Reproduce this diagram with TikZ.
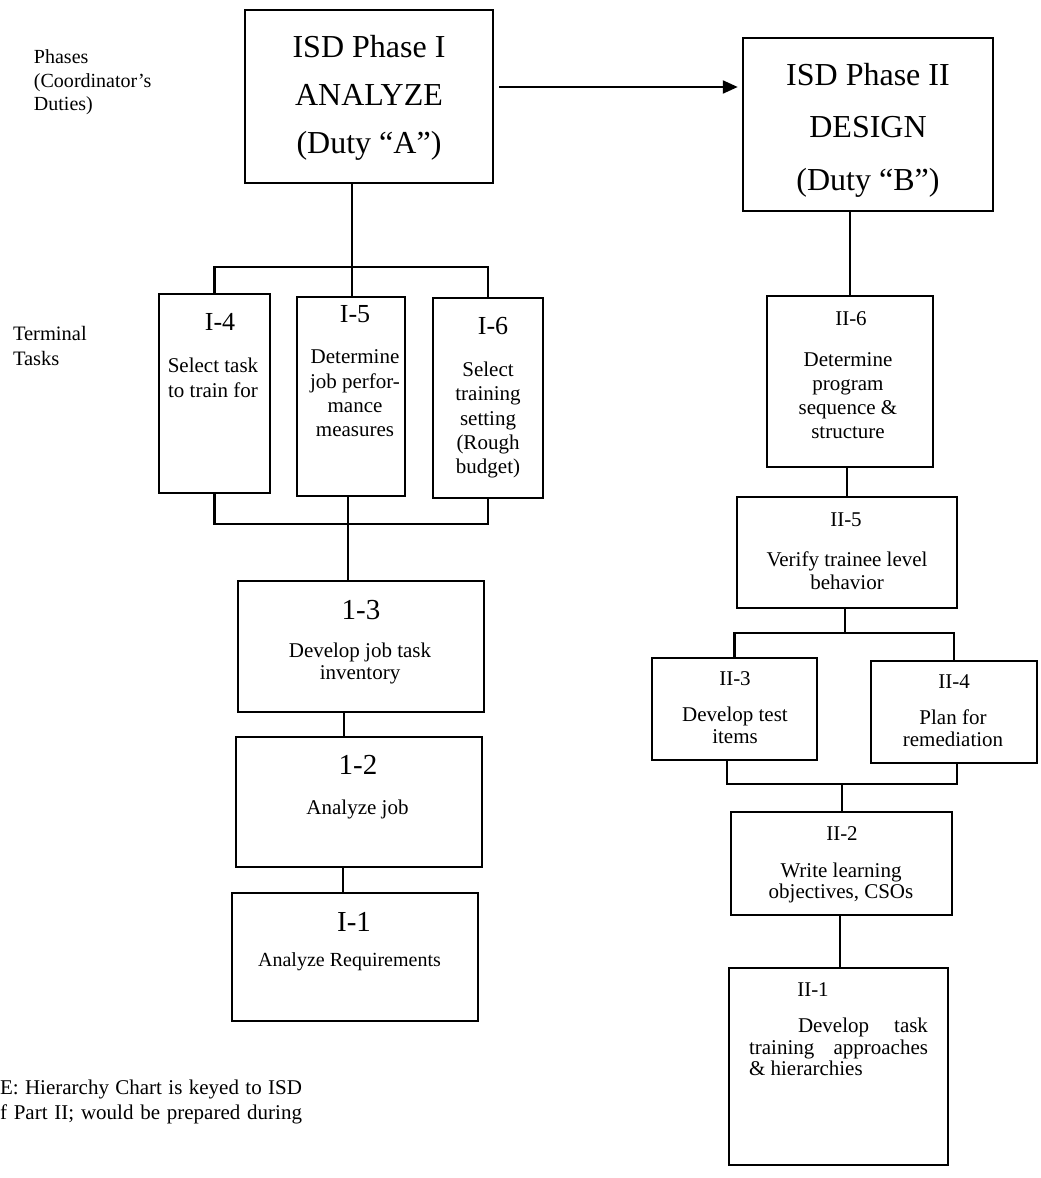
\documentclass[tikz,border=0pt]{standalone}
\usepackage{fontspec}
\setmainfont{Liberation Serif}
\usetikzlibrary{arrows.meta}
\tikzset{
  box/.style={draw, rectangle, line width=2.5pt, inner sep=0pt},
  conn/.style={line width=2.3pt},
  txt/.style={inner sep=0pt, outer sep=0pt, align=center, anchor=north},
  fbig/.style={font=\fontsize{32}{48}\selectfont},
  fnum/.style={font=\fontsize{26}{30}\selectfont},
  fnumb/.style={font=\fontsize{29}{33}\selectfont},
  fbody/.style={font=\fontsize{21}{24.3}\selectfont},
}
\begin{document}
\begin{tikzpicture}[x=1pt,y=-1pt]
\fill[white] (0,0) rectangle (1041,1178);
\useasboundingbox (0,0) rectangle (1041,1178);

% ---------- boxes ----------
\node[box, minimum width=248pt, minimum height=173pt] (p1) at (369,96.5) {};
\node[box, minimum width=250pt, minimum height=173pt] (p2) at (868,124.5) {};
\node[box, minimum width=111pt, minimum height=199pt] (i4) at (214.5,393.5) {};
\node[box, minimum width=108pt, minimum height=199pt] (i5) at (351,396.5) {};
\node[box, minimum width=110pt, minimum height=200pt] (i6) at (488,398) {};
\node[box, minimum width=246pt, minimum height=131pt] (i3) at (361,646.5) {};
\node[box, minimum width=246pt, minimum height=130pt] (i2) at (359,802) {};
\node[box, minimum width=246pt, minimum height=128pt] (i1) at (355,957) {};
\node[box, minimum width=166pt, minimum height=171pt] (ii6) at (850,381.5) {};
\node[box, minimum width=220pt, minimum height=111pt] (ii5) at (847,552.5) {};
\node[box, minimum width=165pt, minimum height=102pt] (ii3) at (734.5,709) {};
\node[box, minimum width=166pt, minimum height=102pt] (ii4) at (954,712) {};
\node[box, minimum width=221pt, minimum height=103pt] (ii2) at (841.5,863.5) {};
\node[box, minimum width=219pt, minimum height=197pt] (ii1) at (838.5,1066.5) {};

% ---------- junction coordinates ----------
\coordinate (ay) at (0,87);
\coordinate (t1) at (352,267);
\coordinate (bb) at (348,524);
\coordinate (lx) at (344,0);
\coordinate (lx2) at (343,0);
\coordinate (lx3) at (840,0);
\coordinate (rb1) at (845,633);
\coordinate (rb2) at (842,784);

% ---------- connectors ----------
\draw[conn, -{Triangle[length=15pt,width=13pt]}, shorten <=5pt, shorten >=4pt]
  (p1.east |- ay) -- (p2.west |- ay);
\draw[conn] (t1 |- p1.south) -- (t1);
\draw[conn] (i4.north) |- (t1) -| (i6.north);
\draw[conn] (t1) -- (t1 |- i5.north);
\draw[conn] (i4.south) |- (bb) -| (i6.south);
\draw[conn] (bb |- i5.south) -- (bb);
\draw[conn] (bb) -- (bb |- i3.north);
\draw[conn] (lx |- i3.south) -- (lx |- i2.north);
\draw[conn] (lx2 |- i2.south) -- (lx2 |- i1.north);

\draw[conn] (ii6.north |- p2.south) -- (ii6.north);
\draw[conn] (ii5.north |- ii6.south) -- (ii5.north);
\draw[conn] (rb1 |- ii5.south) -- (rb1);
\draw[conn] (ii3.north) |- (rb1) -| (ii4.north);
\draw[conn] ([xshift=-7.5pt]ii3.south) |- (rb2) -| ([xshift=3pt]ii4.south);
\draw[conn] (rb2) -- (rb2 |- ii2.north);
\draw[conn] (lx3 |- ii2.south) -- (lx3 |- ii1.north);

% ---------- texts ----------
\node[txt, fbig] (p1t) at (369,35) {ISD Phase I\\ANALYZE\\(Duty “A”)};
\node[txt, fbig, font=\fontsize{32}{52.5}\selectfont] (p2t) at (868,63) {ISD Phase II\\DESIGN\\(Duty “B”)};

\node[txt, anchor=north west, align=left, font=\fontsize{20}{23.5}\selectfont] (phl) at (34,50)
  {Phases\\(Coordinator’s\\Duties)};
\node[txt, anchor=north west, align=left, font=\fontsize{20.5}{25}\selectfont] (ttl) at (13,326)
  {Terminal\\Tasks};

\node[txt, fnum] (i4n) at (220,313) {I-4};
\node[txt, fbody, font=\fontsize{21}{25}\selectfont] (i4t) at (213,358) {Select task\\to train for};
\node[txt, fnum] (i5n) at (355,305) {I-5};
\node[txt, fbody] (i5t) at (355,350) {Determine\\job perfor-\\mance\\measures};
\node[txt, fnum] (i6n) at (493,317) {I-6};
\node[txt, fbody] (i6t) at (488,362) {Select\\training\\setting\\(Rough\\budget)};

\node[txt, fnumb] (i3n) at (361,600) {1-3};
\node[txt, font=\fontsize{21}{22}\selectfont] (i3t) at (360,643) {Develop job task\\inventory};
\node[txt, fnumb] (i2n) at (358,755) {1-2};
\node[txt, fbody] (i2t) at (357.5,800) {Analyze job};
\node[txt, fnumb] (i1n) at (354,912) {I-1};
\node[txt, font=\fontsize{20}{24}\selectfont] (i1t) at (349.5,953) {Analyze Requirements};

\node[txt, fbody] (ii6n) at (851,312) {II-6};
\node[txt, font=\fontsize{21}{24}\selectfont] (ii6t) at (848,353) {Determine\\program\\sequence \&\\structure};
\node[txt, fbody] (ii5n) at (846,513) {II-5};
\node[txt, font=\fontsize{21}{23}\selectfont] (ii5t) at (847,552) {Verify trainee level\\behavior};
\node[txt, fbody] (ii3n) at (735,672) {II-3};
\node[txt, font=\fontsize{21}{21.5}\selectfont] (ii3t) at (735,707) {Develop test\\items};
\node[txt, fbody] (ii4n) at (954,675) {II-4};
\node[txt, font=\fontsize{21}{22}\selectfont] (ii4t) at (953,710) {Plan for\\remediation};
\node[txt, fbody] (ii2n) at (842,827) {II-2};
\node[txt, font=\fontsize{21}{21}\selectfont] (ii2t) at (841,863) {Write learning\\objectives, CSOs};
\node[txt, fbody] (ii1n) at (813,983) {II-1};
\node[txt, anchor=north west, align=left, font=\fontsize{21}{21.5}\selectfont] (ii1t) at (749,1018)
  {\makebox[179pt][s]{\hspace*{49pt}Develop task}\\
   \makebox[179pt][s]{training approaches}\\
   \& hierarchies};

\node[txt, anchor=north west, align=left, font=\fontsize{21}{25}\selectfont] (note) at (0,1080)
  {\makebox[302pt][s]{E: Hierarchy Chart is keyed to ISD}\\
   \makebox[302pt][s]{f Part II; would be prepared during}};
\end{tikzpicture}
\end{document}
